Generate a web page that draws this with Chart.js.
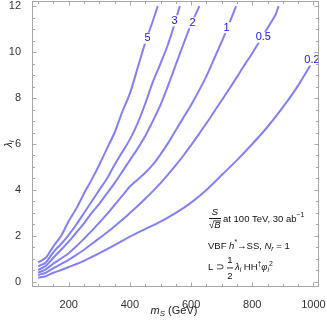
<!DOCTYPE html>
<html><head><meta charset="utf-8">
<script src="https://cdn.jsdelivr.net/npm/chart.js@4/dist/chart.umd.min.js"></script>
<style>html,body{margin:0;padding:0;background:#fff}canvas{display:block}</style>
</head><body>
<canvas id="c" width="327" height="321"></canvas>
<script>
// ---- data ----
const contourLevels = ['5', '3', '2', '1', '0.5', '0.2'];

const mS_5   = [100,125,150,175,200,225,250,275,300,325,350,375,400,425,450,475,491];
const lam_5  = [0.85,1.05,1.55,2.0,2.65,3.2,3.85,4.45,5.1,5.8,6.5,7.4,8.2,9.3,10.4,11.35,12.0];

const mS_3   = [100,125,150,175,200,225,250,275,300,325,350,375,400,425,450,475,500,525,550,563];
const lam_3  = [0.68,0.85,1.3,1.65,2.05,2.5,3.0,3.5,4.0,4.5,5.1,5.65,6.2,6.9,7.75,8.7,9.5,10.35,11.4,12.0];

const mS_2   = [100,125,150,175,200,225,250,275,300,325,350,375,400,425,450,475,500,525,550,575,600,627];
const lam_2  = [0.52,0.7,1.05,1.4,1.75,2.15,2.55,3.0,3.4,3.85,4.3,4.8,5.3,5.8,6.35,7.0,7.7,8.55,9.45,10.35,11.2,12.0];

const mS_1   = [100,125,150,175,200,225,250,275,300,325,350,375,400,425,450,475,500,525,550,575,600,625,650,675,700,725,747];
const lam_1  = [0.4,0.55,0.8,1.02,1.25,1.55,1.88,2.22,2.58,2.95,3.35,3.75,4.15,4.45,4.75,5.1,5.55,6.05,6.6,7.15,7.7,8.3,8.95,9.7,10.45,11.25,12.0];

const mS_05  = [100,125,150,175,200,225,250,275,300,325,350,375,400,425,450,475,500,525,550,575,600,625,650,675,700,725,750,775,800,825,850,875,886];
const lam_05 = [0.3,0.4,0.6,0.78,0.96,1.18,1.4,1.65,1.9,2.15,2.42,2.7,3.0,3.3,3.62,3.95,4.3,4.68,5.08,5.5,5.95,6.42,6.9,7.4,7.9,8.4,8.92,9.45,9.95,10.5,11.05,11.6,12.0];

const mS_02  = [100,125,150,175,200,250,300,350,400,450,500,550,600,650,700,750,800,850,900,950,1000];
const lam_02 = [0.18,0.25,0.4,0.52,0.65,0.92,1.25,1.6,1.97,2.3,2.62,3.0,3.45,4.0,4.65,5.3,6.0,6.75,7.6,8.55,9.65];

// contour label anchor points (data units)
const labelMass   = [458, 546, 605, 716, 836, 995];
const labelLambda = [10.6, 11.36, 11.27, 11.06, 10.64, 9.65];

const xTickLabels = [200, 400, 600, 800, 1000];
const yTickLabels = [0, 2, 4, 6, 8, 10, 12];

// ---- build ----
const massSets = [mS_5, mS_3, mS_2, mS_1, mS_05, mS_02];
const lamSets  = [lam_5, lam_3, lam_2, lam_1, lam_05, lam_02];
const LINE = 'rgb(128,128,250)';
const FONT = '"Liberation Sans", Arial, sans-serif';

const datasets = contourLevels.map((lv, i) => ({
  label: lv,
  data: massSets[i].map((m, k) => ({x: m, y: lamSets[i][k]})),
  showLine: true, borderColor: LINE, borderWidth: 2, pointRadius: 0,
  tension: 0.3, fill: false
}));

function drawRuns(ctx, x, y, runs, size) {
  for (const r of runs) {
    const fs = (r.sub || r.sup) ? size * 0.72 : size;
    ctx.font = (r.it ? 'italic ' : '') + fs + 'px ' + FONT;
    const dy = r.sub ? size * 0.3 : (r.sup ? -size * 0.38 : 0);
    ctx.fillText(r.t, x, y + dy);
    x += ctx.measureText(r.t).width;
  }
  return x;
}
function runsWidth(ctx, runs, size) {
  let w = 0;
  for (const r of runs) {
    const fs = (r.sub || r.sup) ? size * 0.72 : size;
    ctx.font = (r.it ? 'italic ' : '') + fs + 'px ' + FONT;
    w += ctx.measureText(r.t).width;
  }
  return w;
}

const labelPlugin = {
  id: 'contourLabels',
  afterDatasetsDraw(chart) {
    const {ctx, scales: {x, y}} = chart;
    ctx.save();
    ctx.font = '11px ' + FONT;
    ctx.textAlign = 'center'; ctx.textBaseline = 'middle';
    contourLevels.forEach((lv, i) => {
      const px = x.getPixelForValue(labelMass[i]);
      const py = y.getPixelForValue(labelLambda[i]);
      const w = ctx.measureText(lv).width;
      ctx.fillStyle = '#fff';
      ctx.fillRect(px - w / 2 - 1, py - 5.5, w + 2, 11);
      ctx.fillStyle = '#1414f0';
      ctx.fillText(lv, px, py);
    });
    ctx.restore();
  }
};

const framePlugin = {
  id: 'frame',
  afterDraw(chart) {
    const {ctx, chartArea: a, scales: {x, y}} = chart;
    ctx.save();
    ctx.strokeStyle = '#a8a8a8'; ctx.lineWidth = 1;
    const L = Math.round(a.left) + 0.5, R = Math.round(a.right) - 0.5;
    const T = Math.round(a.top) + 0.5, B = Math.round(a.bottom) - 0.5;
    ctx.strokeRect(L, T, R - L, B - T);
    ctx.beginPath();
    x.ticks.forEach(t => {
      const p = Math.round(x.getPixelForValue(t.value)) + 0.5;
      const len = xTickLabels.includes(t.value) ? 4 : 2.5;
      ctx.moveTo(p, B); ctx.lineTo(p, B - len);
      ctx.moveTo(p, T); ctx.lineTo(p, T + len);
    });
    y.ticks.forEach(t => {
      const p = Math.round(y.getPixelForValue(t.value)) + 0.5;
      const len = yTickLabels.includes(t.value) ? 4 : 2.5;
      ctx.moveTo(L, p); ctx.lineTo(L + len, p);
      ctx.moveTo(R, p); ctx.lineTo(R - len, p);
    });
    ctx.stroke();

    // axis titles
    ctx.fillStyle = '#222';
    ctx.textBaseline = 'middle'; ctx.textAlign = 'left';
    const xt = [{t: 'm', it: true}, {t: 'S', it: true, sub: true}, {t: ' (GeV)'}];
    const xw = runsWidth(ctx, xt, 11);
    drawRuns(ctx, 174 - xw / 2, 311, xt, 11);

    ctx.save();
    ctx.translate(8.5, 144);
    ctx.rotate(-Math.PI / 2);
    const yt = [{t: 'λ', it: true}, {t: 'i', it: true, sub: true}];
    const yw = runsWidth(ctx, yt, 11);
    drawRuns(ctx, -yw / 2, 0, yt, 11);
    ctx.restore();

    // annotation block
    const S = 9.5;
    ctx.fillStyle = '#111';
    ctx.textAlign = 'center';
    ctx.font = 'italic ' + S + 'px ' + FONT;
    ctx.fillText('S', 215, 212);
    ctx.fillRect(209, 218, 12, 1);
    ctx.textAlign = 'left';
    ctx.font = S + 'px ' + FONT;
    ctx.fillText('√', 209, 225.5);
    const sw = ctx.measureText('√').width;
    ctx.font = 'italic ' + S + 'px ' + FONT;
    ctx.fillText('B', 209 + sw, 225.5);
    const bw = ctx.measureText('B').width;
    ctx.fillRect(209 + sw - 0.5, 220.5, bw + 1, 0.8);
    drawRuns(ctx, 223, 219, [{t: 'at 100 TeV, 30 ab'}, {t: '−1', sup: true}], S);

    drawRuns(ctx, 208, 246, [
      {t: 'VBF '}, {t: 'h', it: true}, {t: '*', sup: true}, {t: '→SS, '},
      {t: 'N', it: true}, {t: 'r', it: true, sub: true}, {t: ' = 1'}
    ], S);

    drawRuns(ctx, 208, 267.5, [{t: 'L ⊃ '}], S);
    ctx.textAlign = 'center';
    ctx.font = S + 'px ' + FONT;
    ctx.fillText('1', 230, 260);
    ctx.fillText('2', 230, 276.5);
    ctx.fillRect(227, 267.5, 6, 0.9);
    ctx.textAlign = 'left';
    drawRuns(ctx, 235, 267.5, [
      {t: 'λ', it: true}, {t: 'i', it: true, sub: true}, {t: ' HH'}, {t: '†', sup: true},
      {t: 'φ', it: true}, {t: 'i', it: true, sub: true}, {t: '2', sup: true}
    ], S);
    ctx.restore();
  }
};

new Chart(document.getElementById('c'), {
  type: 'scatter',
  data: {datasets},
  options: {
    responsive: false, animation: false, devicePixelRatio: 1,
    layout: {padding: {top: 1, right: 8, left: 0, bottom: 0}},
    plugins: {legend: {display: false}, tooltip: {enabled: false}},
    scales: {
      x: {
        type: 'linear', min: 80, max: 1018,
        afterFit(s) { s.height = 34; s.paddingLeft = 0; s.paddingRight = 0; },
        ticks: {
          stepSize: 50, includeBounds: false, autoSkip: false, maxRotation: 0, padding: 3,
          font: {family: FONT, size: 11}, color: '#333',
          callback: v => xTickLabels.includes(v) ? String(v) : ''
        },
        grid: {display: false}, border: {display: false}
      },
      y: {
        type: 'linear', min: -0.22, max: 12.22,
        afterFit(s) { s.width = 32; s.paddingTop = 0; s.paddingBottom = 0; },
        ticks: {
          stepSize: 0.5, includeBounds: false, autoSkip: false, padding: 3,
          font: {family: FONT, size: 11}, color: '#333',
          callback: v => yTickLabels.includes(v) ? String(v) : ''
        },
        grid: {display: false}, border: {display: false}
      }
    }
  },
  plugins: [labelPlugin, framePlugin]
});
</script>
</body></html>
